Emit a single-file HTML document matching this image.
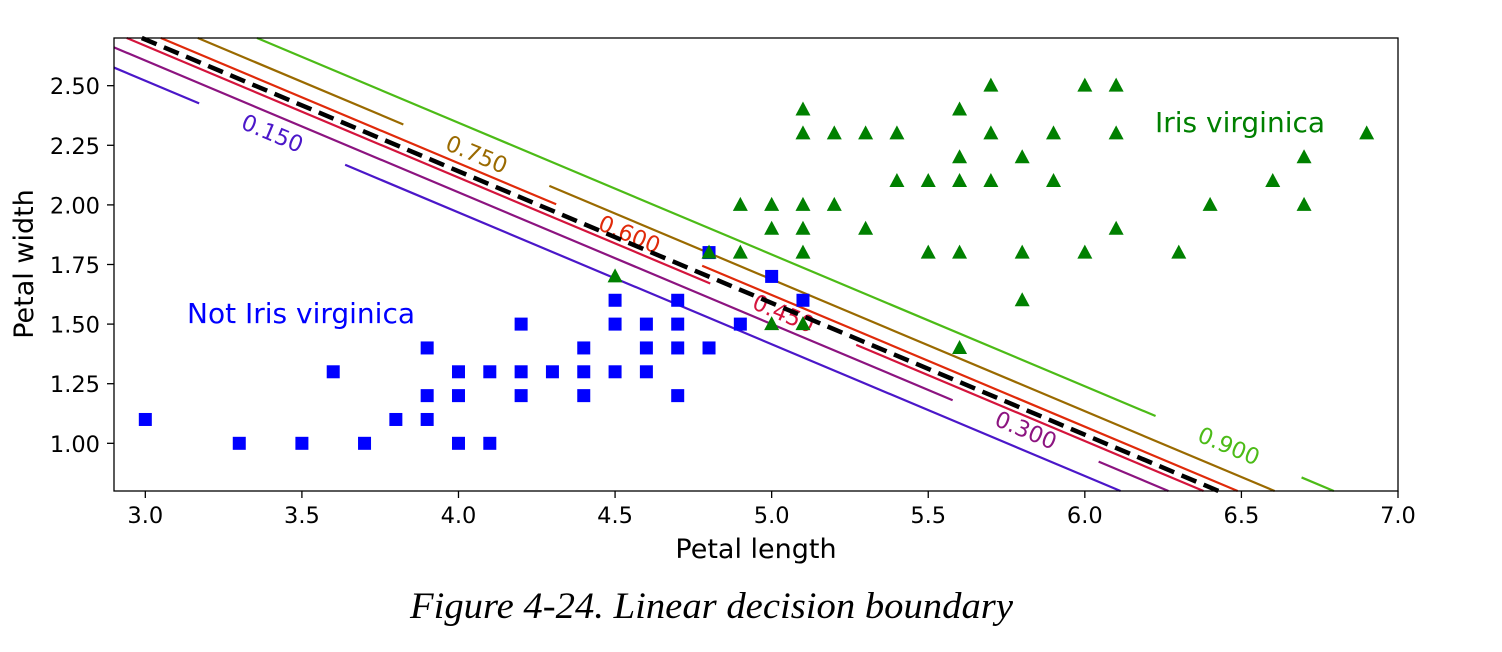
<!DOCTYPE html>
<html><head><meta charset="utf-8">
<style>
html,body{margin:0;padding:0;background:#fff;}
svg{display:block;font-family:"DejaVu Sans","Liberation Sans",sans-serif;}
</style></head>
<body>
<svg id="chart" width="1502" height="652" viewBox="0 0 1502 652" xmlns="http://www.w3.org/2000/svg">
<g id="lines"></g>
<g id="points"></g>
<rect x="114" y="38" width="1284" height="453" fill="none" stroke="#000" stroke-width="1.3"/>
<g id="axes"></g>
<text x="756" y="558" font-size="27" text-anchor="middle" fill="#000">Petal length</text>
<text transform="translate(33,264) rotate(-90)" font-size="27" text-anchor="middle" fill="#000">Petal width</text>
<text x="1155" y="132" font-size="28" fill="#008000">Iris virginica</text>
<text x="187" y="323" font-size="28" fill="#0000ff">Not Iris virginica</text>
<text x="410" y="618" font-size="37" font-style="italic" textLength="603" lengthAdjust="spacingAndGlyphs" font-family="Liberation Serif, serif" fill="#000">Figure 4-24. Linear decision boundary</text>
</svg>
<script>
const xTicks=[3.0,3.5,4.0,4.5,5.0,5.5,6.0,6.5,7.0];
const xTickLabels=["3.0","3.5","4.0","4.5","5.0","5.5","6.0","6.5","7.0"];
const yTicks=[1.0,1.25,1.5,1.75,2.0,2.25,2.5];
const yTickLabels=["1.00","1.25","1.50","1.75","2.00","2.25","2.50"];
const notVirgX=[3.0,3.3,3.5,3.6,3.7,3.8,3.9,3.9,3.9,4.0,4.0,4.0,4.1,4.1,4.2,4.2,4.2,4.3,4.4,4.4,4.4,4.5,4.5,4.5,4.6,4.6,4.6,4.7,4.7,4.7,4.7,4.8,4.8,4.9,5.0,5.1];
const notVirgY=[1.1,1.0,1.0,1.3,1.0,1.1,1.4,1.2,1.1,1.3,1.2,1.0,1.3,1.0,1.5,1.3,1.2,1.3,1.4,1.3,1.2,1.6,1.5,1.3,1.5,1.4,1.3,1.6,1.5,1.4,1.2,1.8,1.4,1.5,1.7,1.6];
const virgX=[4.5,4.8,4.9,4.9,5.0,5.0,5.0,5.1,5.1,5.1,5.1,5.1,5.1,5.2,5.2,5.3,5.3,5.4,5.4,5.5,5.5,5.6,5.6,5.6,5.6,5.6,5.7,5.7,5.7,5.8,5.8,5.8,5.9,5.9,6.0,6.0,6.1,6.1,6.1,6.3,6.4,6.6,6.7,6.7,6.9];
const virgY=[1.7,1.8,1.8,2.0,2.0,1.9,1.5,2.4,2.3,2.0,1.9,1.8,1.5,2.3,2.0,2.3,1.9,2.3,2.1,2.1,1.8,2.4,2.2,2.1,1.8,1.4,2.5,2.3,2.1,2.2,1.8,1.6,2.3,2.1,2.5,1.8,2.5,2.3,1.9,1.8,2.0,2.1,2.2,2.0,2.3];
const levels=["0.150","0.300","0.450","0.600","0.750","0.900"];
const levelXAtBottom=[6.114,6.267,6.379,6.488,6.606,6.795];
const levelLabelX=[3.405,5.811,5.037,4.545,4.057,6.459];
const boundaryXAtBottom=6.427;
const slope=-0.5526;
const colors=["#4b17c9","#8c1480","#d4143c","#e02a0a","#9a6a00","#4cbb17"];

const X0=2.9,X1=7.0,Y0=0.8,Y1=2.7,L=114,R=1398,T=38,B=491;
const sx=v=>L+(v-X0)/(X1-X0)*(R-L);
const sy=v=>B-(v-Y0)/(Y1-Y0)*(B-T);
const NS="http://www.w3.org/2000/svg";
function mk(tag,attrs,parent){const e=document.createElementNS(NS,tag);for(const k in attrs)e.setAttribute(k,attrs[k]);parent.appendChild(e);return e;}
const linesG=document.getElementById('lines'),ptsG=document.getElementById('points'),axG=document.getElementById('axes');
function lineEnds(xb){
  let xa=xb+(Y1-Y0)/slope; let p1=[xa,Y1],p2=[xb,Y0];
  if(xa<X0){p1=[X0,Y0+slope*(X0-xb)];}
  return [p1,p2];
}
const GAP=73;
levels.forEach((lv,i)=>{
  const [p1,p2]=lineEnds(levelXAtBottom[i]);
  const ax=sx(p1[0]),ay=sy(p1[1]),bx=sx(p2[0]),by=sy(p2[1]);
  const lx=sx(levelLabelX[i]);const ly=sy(Y0+slope*(levelLabelX[i]-levelXAtBottom[i]));
  const k=(by-ay)/(bx-ax);
  const s1=mk('line',{x1:ax,y1:ay,x2:lx-GAP,y2:ly-GAP*k,stroke:colors[i],'stroke-width':2.2},linesG);
  
  
  const s2=mk('line',{x1:lx+GAP,y1:ly+GAP*k,x2:bx,y2:by,stroke:colors[i],'stroke-width':2.2},linesG);
  
  
  const ang=Math.atan(k)*180/Math.PI;
  const t=mk('text',{x:0,y:0,transform:`translate(${lx},${ly}) rotate(${ang})`,'font-size':22.5,'text-anchor':'middle','dominant-baseline':'central',fill:colors[i]},linesG);
  t.textContent=lv;
  
  
});
{
  const [p1,p2]=lineEnds(boundaryXAtBottom);
  const b=mk('line',{x1:sx(p1[0]),y1:sy(p1[1]),x2:sx(p2[0]),y2:sy(p2[1]),stroke:'#000','stroke-width':4.5,'stroke-dasharray':'16 8'},linesG);
  
  
}
notVirgX.forEach((x,i)=>{
  const r=mk('rect',{x:sx(x)-6.5,y:sy(notVirgY[i])-6.5,width:13,height:13,fill:'#0000ff'},ptsG);
  
  
});
virgX.forEach((x,i)=>{
  const cx=sx(x),cy=sy(virgY[i]);
  const p=mk('polygon',{points:`${cx},${cy-8} ${cx-7.5},${cy+6} ${cx+7.5},${cy+6}`,fill:'#008000'},ptsG);
  
  
});
xTicks.forEach((v,i)=>{
  const x=sx(v);
  const l=mk('line',{x1:x,y1:B,x2:x,y2:B+7,stroke:'#000','stroke-width':1.3},axG);
  
  
  const t=mk('text',{x:x,y:B+32,'font-size':22.5,'text-anchor':'middle',fill:'#000'},axG);
  t.textContent=xTickLabels[i];
  
  
});
yTicks.forEach((v,i)=>{
  const y=sy(v);
  const l=mk('line',{x1:L-7,y1:y,x2:L,y2:y,stroke:'#000','stroke-width':1.3},axG);
  
  
  const t=mk('text',{x:L-14,y:y+8.5,'font-size':22.5,'text-anchor':'end',fill:'#000'},axG);
  t.textContent=yTickLabels[i];
  
  
});
</script>
</body></html>
